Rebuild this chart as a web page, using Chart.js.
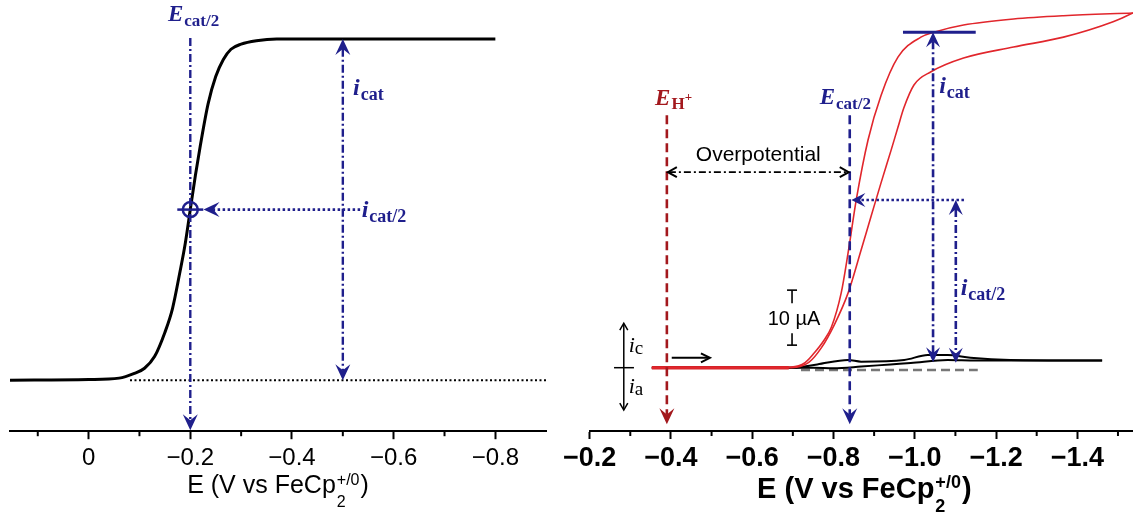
<!DOCTYPE html>
<html><head><meta charset="utf-8">
<script src="https://cdn.jsdelivr.net/npm/chart.js@4.4.1/dist/chart.umd.min.js"></script>
<style>
html,body{margin:0;padding:0;background:#fff;overflow:hidden}
#wrap{position:relative;width:1133px;height:516px;background:#fff}
#c1{position:absolute;left:0;top:0}
#c2{position:absolute;left:560px;top:0}
</style></head><body>
<div id="wrap"><canvas id="c1" width="560" height="516"></canvas><canvas id="c2" width="573" height="516"></canvas></div>
<script>
// ---------- LEFT PANEL DATA (normalised catalytic current vs E) ----------
const leftPotential = [0.155, 0.0, -0.06, -0.09, -0.11, -0.13, -0.15, -0.165, -0.18, -0.19, -0.20, -0.21, -0.22, -0.235, -0.25, -0.265, -0.28, -0.30, -0.33, -0.37, -0.45, -0.80];
const leftCurrent   = [0, 0.002, 0.006, 0.02, 0.035, 0.07, 0.14, 0.21, 0.32, 0.40, 0.50, 0.60, 0.69, 0.81, 0.89, 0.94, 0.97, 0.985, 0.995, 1.0, 1.0, 1.0];
const leftTickValues = [0, -0.2, -0.4, -0.6, -0.8];
const leftTickLabels = ['0', '\u22120.2', '\u22120.4', '\u22120.6', '\u22120.8'];
const leftMinorTicks = [0.1, -0.1, -0.3, -0.5, -0.7];
const leftEcatHalf = -0.2, leftIcatHalf = 0.5, leftIcat = 1.0, leftIcatE = -0.5;

// ---------- RIGHT PANEL DATA (CV, current in µA) ----------
const cvCatFwdE = [-0.353, -0.60, -0.696, -0.73, -0.753, -0.775, -0.795, -0.819, -0.836, -0.856, -0.885, -0.917, -0.959, -1.015, -1.047, -1.12, -1.243, -1.366, -1.537];
const cvCatFwdI = [0, 0, 0.1, 0.9, 2.7, 4.8, 7.4, 13.6, 20.9, 30.5, 41.4, 49.5, 56.5, 60.1, 61.0, 62.3, 63.4, 64.0, 64.5];
const cvCatRevE = [-1.537, -1.488, -1.366, -1.243, -1.12, -1.04, -0.998, -0.973, -0.959, -0.942, -0.917, -0.892, -0.868, -0.836, -0.802, -0.770, -0.740, -0.709, -0.68, -0.353];
const cvCatRevI = [64.5, 62.9, 60.1, 58.3, 56.3, 53.8, 51.4, 47.2, 43.8, 39.6, 33.6, 27.4, 21.4, 13.6, 7.8, 3.6, 1.0, 0.1, 0, 0];
const cvBlankFwdE = [-0.353, -0.70, -0.76, -0.836, -0.868, -0.974, -1.032, -1.081, -1.137, -1.235, -1.461];
const cvBlankFwdI = [0, 0, 0.6, 1.4, 1.1, 1.4, 2.3, 2.3, 1.8, 1.4, 1.3];
const cvBlankRevE = [-1.461, -1.30, -1.15, -1.081, -0.99, -0.94, -0.868, -0.80, -0.75, -0.353];
const cvBlankRevI = [1.3, 1.3, 1.3, 1.4, 0.85, 0.6, 0.2, -0.1, 0, 0];
const flatSegmentE = [-0.353, -0.69];
const flatSegmentI = [0, 0];
const blankBaselineE = [-0.72, -1.155];
const blankBaselineI = [-0.4, -0.4];
const rightTickValues = [-0.2, -0.4, -0.6, -0.8, -1.0, -1.2, -1.4];
const rightTickLabels = ['\u22120.2', '\u22120.4', '\u22120.6', '\u22120.8', '\u22121.0', '\u22121.2', '\u22121.4'];
const rightMinorTicks = [-0.3, -0.5, -0.7, -0.9, -1.1, -1.3, -1.5];
const rightEH = -0.39, rightEcatHalf = -0.84, rightIcat = 61.0, rightIcatHalf = 30.5, rightIcatE = -1.045, rightIcatHalfE = -1.101;
const scaleBarE = -0.698, scaleBarTop = 14.1, scaleBarBottom = 4.1;

const NAVY = '#1f1f8c', DRED = '#a3181d', RED = '#e1262c';
const pts = (xs, ys) => xs.map((x, i) => ({x, y: ys[i]}));

// ---------- drawing helpers ----------
function seg(ctx, x1, y1, x2, y2, color, w, dash) {
  ctx.save(); ctx.strokeStyle = color; ctx.lineWidth = w; ctx.setLineDash(dash || []);
  ctx.beginPath(); ctx.moveTo(x1, y1); ctx.lineTo(x2, y2); ctx.stroke(); ctx.restore();
}
function head(ctx, tx, ty, fx, fy, len, hw, color, open, lw) {
  const a = Math.atan2(ty - fy, tx - fx);
  ctx.save(); ctx.translate(tx, ty); ctx.rotate(a); ctx.setLineDash([]);
  ctx.beginPath();
  if (open) {
    ctx.moveTo(-len, -hw); ctx.lineTo(0, 0); ctx.lineTo(-len, hw);
    ctx.strokeStyle = color; ctx.lineWidth = lw || 1.5; ctx.lineJoin = 'miter'; ctx.stroke();
  } else {
    ctx.moveTo(0, 0); ctx.lineTo(-len, -hw); ctx.lineTo(-len * 0.62, 0); ctx.lineTo(-len, hw); ctx.closePath();
    ctx.fillStyle = color; ctx.fill();
  }
  ctx.restore();
}
function arrowLine(ctx, x1, y1, x2, y2, color, w, dash, h1, h2, opt) {
  const o = opt || {}; const len = o.len || 12, hw = o.hw || 6, open = !!o.open;
  const d = Math.hypot(x2 - x1, y2 - y1), ux = (x2 - x1) / d, uy = (y2 - y1) / d;
  const s = open ? 1 : len * 0.6;
  const ax = h1 ? x1 + ux * s : x1, ay = h1 ? y1 + uy * s : y1;
  const bx = h2 ? x2 - ux * s : x2, by = h2 ? y2 - uy * s : y2;
  seg(ctx, ax, ay, bx, by, color, w, dash);
  if (h1) head(ctx, x1, y1, x2, y2, len, hw, color, open, o.lw);
  if (h2) head(ctx, x2, y2, x1, y1, len, hw, color, open, o.lw);
}
function rich(ctx, x, y, parts, align, color) {
  ctx.save(); ctx.fillStyle = color; ctx.textBaseline = 'alphabetic'; ctx.textAlign = 'left';
  const widths = parts.map(p => { ctx.font = p.f; return p.stack ? Math.max(ctx.measureText(p.sub).width, ctx.measureText(p.sup).width) : ctx.measureText(p.t).width; });
  const w = widths.reduce((s, v) => s + v, 0) + parts.reduce((s, p) => s + (p.gap || 0), 0);
  let cx = align === 'center' ? x - w / 2 : (align === 'right' ? x - w : x);
  parts.forEach((p, i) => {
    ctx.font = p.f; cx += p.gap || 0;
    if (p.stack) { ctx.fillText(p.sub, cx, y + p.subDy); ctx.fillText(p.sup, cx, y + p.supDy); }
    else ctx.fillText(p.t, cx, y + (p.dy || 0));
    cx += widths[i];
  });
  ctx.restore();
}
function minorTicks(chart, vals, len) {
  const ctx = chart.ctx, sx = chart.scales.x, b = chart.chartArea.bottom;
  vals.forEach(v => { const x = sx.getPixelForValue(v); seg(ctx, x, b, x, b + len, '#000', 2); });
}
const SERIF = '"Liberation Serif","DejaVu Serif",serif';
const SANS = '"Liberation Sans",Arial,sans-serif';
const BIG = {len: 16, hw: 7.5};

// ---------- LEFT CHART ----------
const leftPlugin = {
  id: 'leftAnno',
  afterDraw(chart) {
    const ctx = chart.ctx, X = v => chart.scales.x.getPixelForValue(v), Y = v => chart.scales.y.getPixelForValue(v);
    const ca = chart.chartArea;
    minorTicks(chart, leftMinorTicks, 5);
    seg(ctx, X(-0.0814), Y(0), ca.right, Y(0), '#000', 2, [2, 2.5]);
    arrowLine(ctx, X(leftEcatHalf), Y(1.003), X(leftEcatHalf), ca.bottom - 1, NAVY, 2.4, [8, 3, 2, 3], false, true, BIG);
    const cx = X(leftEcatHalf), cy = Y(leftIcatHalf);
    ctx.save(); ctx.strokeStyle = NAVY; ctx.lineWidth = 2.5; ctx.beginPath(); ctx.arc(cx, cy, 7.5, 0, Math.PI * 2); ctx.stroke(); ctx.restore();
    seg(ctx, cx - 13, cy, cx + 13, cy, NAVY, 2.5);
    arrowLine(ctx, X(-0.534), cy, X(-0.226), cy, NAVY, 2.6, [2.5, 2.5], false, true, BIG);
    arrowLine(ctx, X(leftIcatE), Y(leftIcat), X(leftIcatE), Y(0), NAVY, 2.4, [8, 3, 2, 3], true, true, BIG);
    rich(ctx, X(-0.156), Y(1.0528), [{t: 'E', f: 'italic bold 23px ' + SERIF}, {t: 'cat/2', f: 'bold 17px ' + SERIF, dy: 5, gap: 1}], 'left', NAVY);
    rich(ctx, X(-0.52), Y(0.836), [{t: 'i', f: 'italic bold 24px ' + SERIF}, {t: 'cat', f: 'bold 18px ' + SERIF, dy: 5, gap: 1}], 'left', NAVY);
    rich(ctx, X(-0.537), Y(0.478), [{t: 'i', f: 'italic bold 24px ' + SERIF}, {t: 'cat/2', f: 'bold 18px ' + SERIF, dy: 5, gap: 1}], 'left', NAVY);
    rich(ctx, (ca.left + ca.right) / 2, ca.bottom + 62, [
      {t: 'E (V vs FeCp', f: '25px ' + SANS},
      {stack: true, sub: '2', sup: '+/0', f: '16px ' + SANS, subDy: 14, supDy: -8, gap: 1},
      {t: ')', f: '25px ' + SANS, gap: 1}], 'center', '#000');
  }
};

new Chart(document.getElementById('c1'), {
  type: 'scatter',
  data: {datasets: [{data: pts(leftPotential, leftCurrent), showLine: true, borderColor: '#000', borderWidth: 3, pointRadius: 0, cubicInterpolationMode: 'monotone', fill: false}]},
  options: {
    responsive: false, animation: false, devicePixelRatio: 1, events: [],
    layout: {padding: {left: 10, right: 14, top: 0, bottom: 38}},
    plugins: {legend: {display: false}, tooltip: {enabled: false}},
    scales: {
      x: {type: 'linear', reverse: true, min: -0.8996, max: 0.1546,
        afterBuildTicks: s => { s.ticks = leftTickValues.map(v => ({value: v})); },
        ticks: {callback: (v, i) => leftTickLabels[i], font: {family: SANS, size: 24}, color: '#000', padding: 5, maxRotation: 0, autoSkip: false},
        grid: {display: true, drawOnChartArea: false, drawTicks: true, tickLength: 8, tickWidth: 2, tickColor: '#000'},
        border: {display: true, color: '#000', width: 2}},
      y: {display: false, min: -0.1496, max: 1.1144}
    }
  },
  plugins: [leftPlugin]
});

// ---------- RIGHT CHART ----------
const rightPlugin = {
  id: 'rightAnno',
  afterDraw(chart) {
    const ctx = chart.ctx, X = v => chart.scales.x.getPixelForValue(v), Y = v => chart.scales.y.getPixelForValue(v);
    const ca = chart.chartArea;
    minorTicks(chart, rightMinorTicks, 5);
    arrowLine(ctx, X(rightEH), Y(45.9), X(rightEH), Y(-10.3), DRED, 2.6, [9, 5], false, true, BIG);
    arrowLine(ctx, X(rightEcatHalf), Y(45.9), X(rightEcatHalf), Y(-10.3), NAVY, 2.6, [9, 5], false, true, BIG);
    arrowLine(ctx, X(rightEH) + 1, Y(35.55), X(rightEcatHalf) - 1, Y(35.55), '#000', 1.6, [7, 3, 2, 3], true, true, {open: true, len: 9, hw: 5, lw: 2});
    ctx.save(); ctx.font = '21px ' + SANS; ctx.fillStyle = '#000'; ctx.textAlign = 'center'; ctx.textBaseline = 'alphabetic';
    ctx.fillText('Overpotential', X(-0.615), Y(37.6)); ctx.restore();
    arrowLine(ctx, X(-1.121), Y(rightIcatHalf), X(-0.844), Y(rightIcatHalf), NAVY, 2.6, [2.5, 2.5], false, true, {len: 14, hw: 7});
    seg(ctx, X(-0.971), Y(rightIcat), X(-1.150), Y(rightIcat), NAVY, 3);
    arrowLine(ctx, X(rightIcatE), Y(rightIcat), X(rightIcatE), Y(1.0), NAVY, 2.6, [8, 3, 2, 3], true, true, {len: 15, hw: 7});
    arrowLine(ctx, X(rightIcatHalfE), Y(rightIcatHalf), X(rightIcatHalfE), Y(0.9), NAVY, 2.6, [8, 3, 2, 3], true, true, {len: 15, hw: 7});
    rich(ctx, X(-0.361), Y(47.8), [{t: 'E', f: 'italic bold 23px ' + SERIF}, {t: 'H', f: 'bold 17px ' + SERIF, dy: 4, gap: 1}, {t: '+', f: 'bold 13px ' + SERIF, dy: -4}], 'left', DRED);
    rich(ctx, X(-0.766), Y(47.9), [{t: 'E', f: 'italic bold 23px ' + SERIF}, {t: 'cat/2', f: 'bold 17px ' + SERIF, dy: 5, gap: 1}], 'left', NAVY);
    rich(ctx, X(-1.060), Y(49.9), [{t: 'i', f: 'italic bold 24px ' + SERIF}, {t: 'cat', f: 'bold 18px ' + SERIF, dy: 5, gap: 1}], 'left', NAVY);
    rich(ctx, X(-1.113), Y(13.2), [{t: 'i', f: 'italic bold 24px ' + SERIF}, {t: 'cat/2', f: 'bold 18px ' + SERIF, dy: 5, gap: 1}], 'left', NAVY);
    const sx = X(scaleBarE);
    seg(ctx, sx - 5, Y(scaleBarTop), sx + 5, Y(scaleBarTop), '#000', 1.6);
    seg(ctx, sx, Y(scaleBarTop), sx, Y(scaleBarTop) + 13, '#000', 1.6);
    seg(ctx, sx - 5, Y(scaleBarBottom), sx + 5, Y(scaleBarBottom), '#000', 1.6);
    seg(ctx, sx, Y(scaleBarBottom), sx, Y(scaleBarBottom) - 12, '#000', 1.6);
    ctx.save(); ctx.font = '20px ' + SANS; ctx.fillStyle = '#000'; ctx.textAlign = 'center'; ctx.textBaseline = 'alphabetic';
    ctx.fillText('10 \u00B5A', X(-0.703), Y(7.8)); ctx.restore();
    const ax = X(-0.284);
    arrowLine(ctx, ax, Y(8.1), ax, Y(-7.7), '#000', 1.5, [], true, true, {open: true, len: 7, hw: 4, lw: 1.5});
    seg(ctx, X(-0.26), Y(0), X(-0.309), Y(0), '#000', 1.5);
    rich(ctx, X(-0.296), Y(2.9), [{t: 'i', f: 'italic 22px ' + SERIF}, {t: 'c', f: '19px ' + SERIF, dy: 2}], 'left', '#000');
    rich(ctx, X(-0.296), Y(-4.65), [{t: 'i', f: 'italic 22px ' + SERIF}, {t: 'a', f: '19px ' + SERIF, dy: 2}], 'left', '#000');
    arrowLine(ctx, X(-0.402), Y(1.8), X(-0.496), Y(1.8), '#000', 2, [], false, true, {open: true, len: 9, hw: 4.5, lw: 2});
    rich(ctx, (ca.left + ca.right) / 2 + 3, ca.bottom + 67, [
      {t: 'E (V vs FeCp', f: 'bold 29px ' + SANS},
      {stack: true, sub: '2', sup: '+/0', f: 'bold 18px ' + SANS, subDy: 14, supDy: -10, gap: 1},
      {t: ')', f: 'bold 29px ' + SANS, gap: 1}], 'center', '#000');
  }
};

const lineDs = (xs, ys, color, width, order, extra) => Object.assign({data: pts(xs, ys), showLine: true, borderColor: color, borderWidth: width, pointRadius: 0, fill: false, cubicInterpolationMode: 'monotone', order}, extra || {});

new Chart(document.getElementById('c2'), {
  type: 'scatter',
  data: {datasets: [
    lineDs(cvCatFwdE, cvCatFwdI, RED, 1.6, 0),
    lineDs(cvCatRevE, cvCatRevI, RED, 1.6, 0),
    lineDs(flatSegmentE, flatSegmentI, '#d42228', 3.5, 1),
    lineDs(cvBlankFwdE, cvBlankFwdI, '#000', 2, 2),
    lineDs(cvBlankRevE, cvBlankRevI, '#000', 2, 2),
    lineDs(blankBaselineE, blankBaselineI, '#777', 2.5, 3, {borderDash: [9, 5]})
  ]},
  options: {
    responsive: false, animation: false, devicePixelRatio: 1, events: [],
    layout: {padding: {left: 27.4, right: 0, top: 0, bottom: 38.6}},
    plugins: {legend: {display: false}, tooltip: {enabled: false}},
    scales: {
      x: {type: 'linear', reverse: true, min: -1.537, max: -0.2,
        afterBuildTicks: s => { s.ticks = rightTickValues.map(v => ({value: v})); },
        ticks: {callback: (v, i) => rightTickLabels[i], font: {family: SANS, size: 27, weight: 'bold'}, color: '#000', padding: 3, maxRotation: 0, autoSkip: false},
        grid: {display: true, drawOnChartArea: false, drawTicks: true, tickLength: 8, tickWidth: 2, tickColor: '#000'},
        border: {display: true, color: '#000', width: 2}},
      y: {display: false, min: -11.51, max: 66.85}
    }
  },
  plugins: [rightPlugin]
});
</script>
</body></html>
